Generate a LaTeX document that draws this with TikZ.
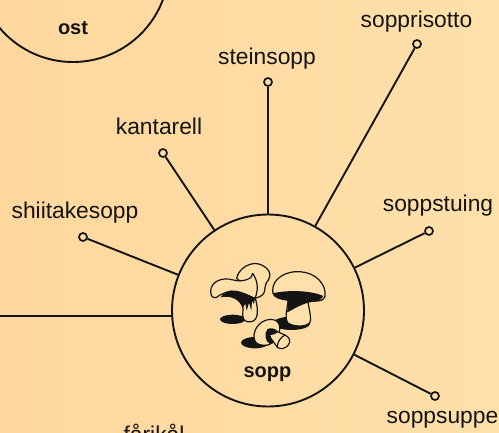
\documentclass[tikz,border=0pt]{standalone}
\usepackage{fontspec}
\setmainfont{Liberation Sans}
\definecolor{paperleft}{RGB}{254,216,158}
\definecolor{paperright}{RGB}{255,224,170}
\definecolor{inkdark}{RGB}{20,20,20}
\begin{document}
\begin{tikzpicture}[
  x=1pt, y=-1pt,
  every node/.style={inner sep=1pt, text=inkdark},
  topic/.style={circle, draw=inkdark, line width=1.9pt, minimum size=192pt, inner sep=0pt},
  leaf/.style={circle, draw=inkdark, line width=1.7pt, fill=paperright, minimum size=8pt, inner sep=0pt},
  edge/.style={draw=inkdark, line width=1.9pt},
  word/.style={font=\fontsize{22.8}{26}\selectfont},
  topicword/.style={font=\fontsize{20}{24}\selectfont\bfseries},
  sketch/.style={draw=inkdark, line width=1.2pt, line join=round, fill=paperright},
  shade/.style={fill=inkdark, draw=none}]

  \clip (0,0) rectangle (499,432);
  \fill[left color=paperleft, right color=paperright] (0,0) rectangle (499,432);

  % ---- topics -------------------------------------------------------------
  \node[topic] (sopp) at (268,310.5) {};
  \node[topic] (ost)  at (73,-34)    {};
  \node[topicword] (soppword) at (267.5,374.5) {sopp};
  \node[topicword] (ostword)  at (73,28)       {ost};

  % ---- leaves -------------------------------------------------------------
  \node[leaf] (risotto)  at (417,44)  {};
  \node[leaf] (stein)    at (268,82)  {};
  \node[leaf] (kantarell) at (163,153) {};
  \node[leaf] (shiitake) at (83,237)  {};
  \node[leaf] (stuing)   at (429,231) {};
  \node[leaf] (suppe)    at (435,396) {};
  \coordinate (offleft) at (0,316);

  % ---- edges --------------------------------------------------------------
  \draw[edge] (sopp) -- (risotto);
  \draw[edge] (sopp) -- (stein);
  \draw[edge] (sopp) -- (kantarell);
  \draw[edge] (sopp) -- (shiitake);
  \draw[edge] (sopp) -- (stuing);
  \draw[edge] (sopp) -- (suppe);
  \draw[edge] (offleft) -- (offleft -| sopp.west);

  % ---- labels -------------------------------------------------------------
  \node[word] (risottoword)  at (416.5,22)  {sopprisotto};
  \node[word] (steinword)    at (267,59)  {steinsopp};
  \node[word] (kantarellword) at (159,126) {kantarell};
  \node[word] (shiitakeword) at (75,213)  {shiitakesopp};
  \node[word] (stuingword)   at (438,205.5) {soppstuing};
  \node[word] (suppeword)    at (442.5,420) {soppsuppe};
  \node[word] (farikal)      at (154,433) {fårikål};

  % ---- mushrooms, in 3x crop units ----------------------------------------
  \begin{scope}[shift={(190,240)}, x=0.3333pt, y=-0.3333pt]
    % shadows
    \fill[shade] (128,238) ellipse (38 and 14);
    \fill[shade] (305,250) ellipse (56 and 20);
    \fill[shade] (195,308) ellipse (42 and 17);
    % chanterelle
    \path[sketch] (158,195) .. controls (162,220) and (150,238) .. (172,245)
      .. controls (200,250) and (210,225) .. (196,175) -- cycle;
    \path[sketch] (140,115) .. controls (145,85) and (185,60) .. (215,75)
      .. controls (245,90) and (245,110) .. (228,130)
      .. controls (220,145) and (235,165) .. (195,175)
      .. controls (170,150) and (150,120) .. (140,115) -- cycle;
    \path[sketch] (62,155) .. controls (62,125) and (95,110) .. (130,120)
      .. controls (160,128) and (190,115) .. (188,100)
      .. controls (205,125) and (205,150) .. (195,175)
      .. controls (160,160) and (120,140) .. (80,172)
      .. controls (70,175) and (62,170) .. (62,155) -- cycle;
    \fill[shade] (92,172) .. controls (105,150) and (130,138) .. (195,175)
      -- (192,192) -- (186,182) -- (184,212) -- (177,188) -- (170,212)
      -- (166,190) -- (158,205)
      .. controls (150,180) and (125,165) .. (92,172) -- cycle;
    % button mushroom
    \path[sketch] (295,170) .. controls (295,200) and (280,235) .. (295,250)
      .. controls (315,262) and (360,262) .. (362,240)
      .. controls (362,220) and (355,200) .. (352,170) -- cycle;
    \path[sketch] (248,155) .. controls (245,115) and (290,92) .. (330,95)
      .. controls (375,98) and (410,130) .. (405,170)
      .. controls (402,185) and (375,185) .. (340,182)
      .. controls (300,182) and (250,180) .. (248,155) -- cycle;
    \fill[shade] (248,160) .. controls (290,150) and (360,150) .. (400,168)
      .. controls (395,185) and (370,183) .. (355,188)
      .. controls (330,195) and (315,205) .. (290,218)
      .. controls (295,205) and (295,190) .. (293,182)
      .. controls (275,180) and (250,175) .. (248,160) -- cycle;
    % small mushroom
    \path[sketch] (192,285) .. controls (195,250) and (235,228) .. (260,243)
      .. controls (275,255) and (270,275) .. (262,290)
      .. controls (255,305) and (240,318) .. (220,316)
      .. controls (200,315) and (190,305) .. (192,285) -- cycle;
    \fill[shade] (232,268) .. controls (240,262) and (255,265) .. (262,272)
      .. controls (262,285) and (252,310) .. (240,312)
      .. controls (225,305) and (222,280) .. (232,268) -- cycle;
    \path[sketch] (238,282) .. controls (245,285) and (258,280) .. (262,275)
      -- (285,285)
      .. controls (300,292) and (303,305) .. (295,315)
      .. controls (287,325) and (272,330) .. (262,322)
      -- (250,305) .. controls (245,300) and (240,292) .. (238,282) -- cycle;
    \draw[sketch, fill=none] (262,322) .. controls (262,305) and (272,292) .. (285,285);
  \end{scope}
\end{tikzpicture}
\end{document}
